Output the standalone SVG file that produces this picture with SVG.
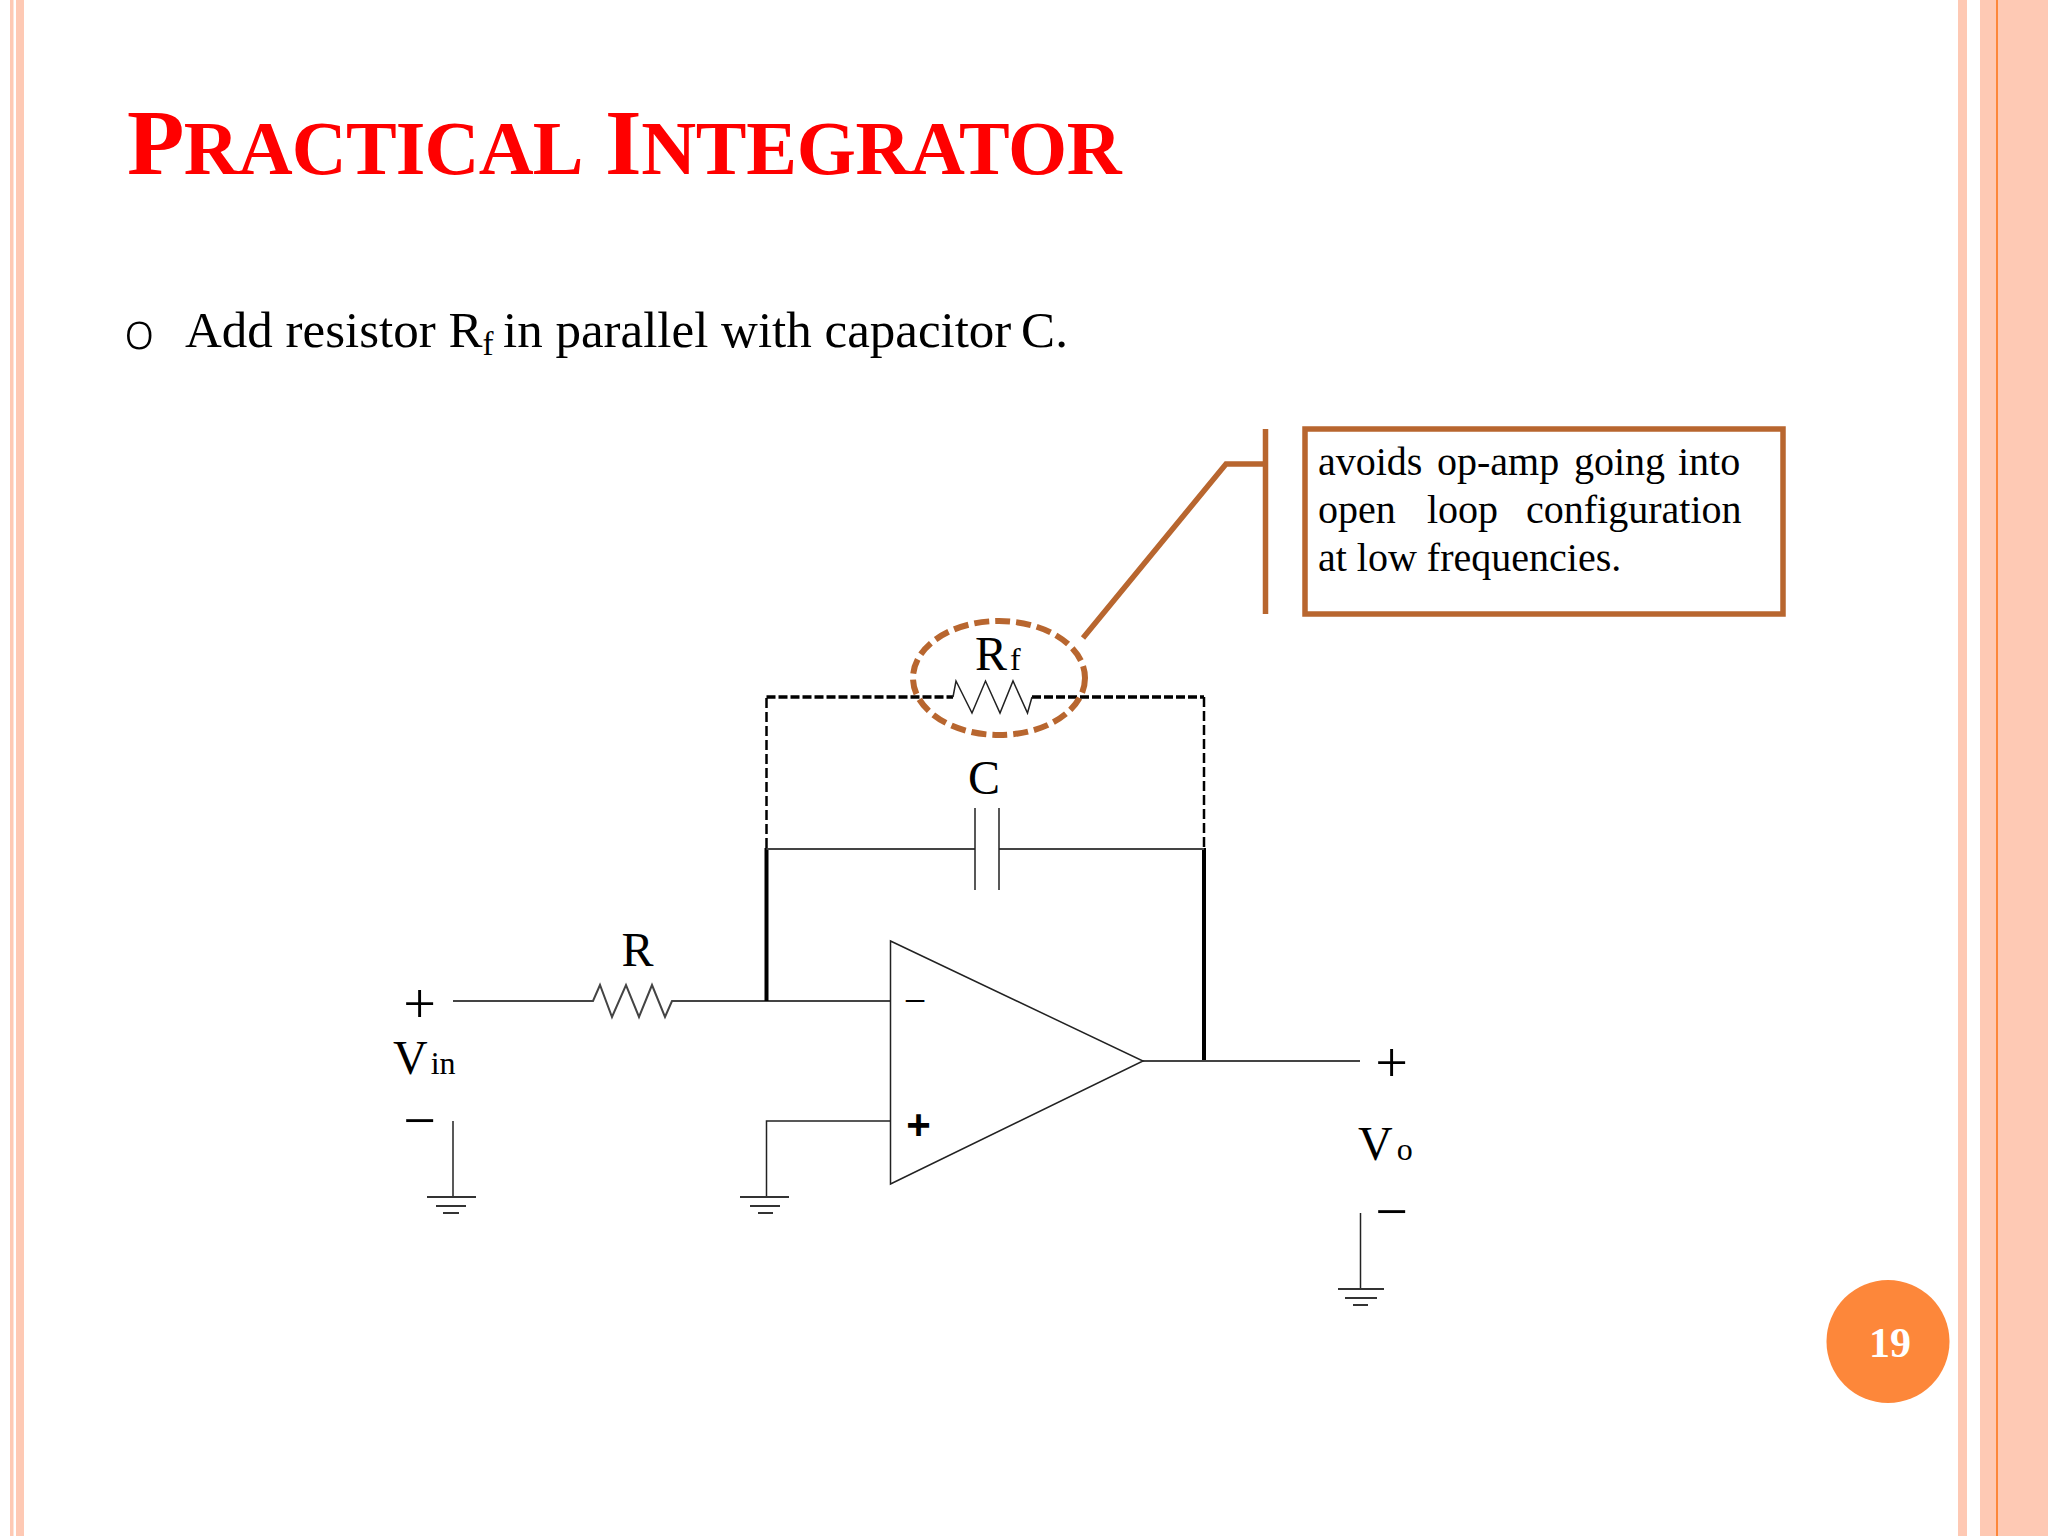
<svg xmlns="http://www.w3.org/2000/svg" width="2048" height="1536" viewBox="0 0 2048 1536">
<defs><style>
text{font-family:"Liberation Serif","Times New Roman",serif;fill:#000}
.lab{font-size:48px}
.sub{font-size:32px}
.sign{font-size:58px;text-anchor:middle}
.body{font-size:40px}
.w{fill:none;stroke:#444;stroke-width:2}
.t{fill:none;stroke:#222;stroke-width:1.5}
.g{fill:none;stroke:#333;stroke-width:2}
.thick{fill:none;stroke:#000;stroke-width:4}
.dash{fill:none;stroke:#000;stroke-width:3.500;stroke-dasharray:9 3}
.dashv{fill:none;stroke:#000;stroke-width:2.500;stroke-dasharray:10 4}
.call{fill:none;stroke:#B8662F;stroke-width:5.500}
</style></defs>
<rect width="2048" height="1536" fill="#fff"/>
<g id="frame">
<rect x="10" y="0" width="3.500" height="1536" fill="#FEC9B4"/>
<rect x="16" y="0" width="8" height="1536" fill="#FEC9B4"/>
<rect x="1958" y="0" width="9" height="1536" fill="#FEC9B4"/>
<rect x="1980" y="0" width="68" height="1536" fill="#FEC9B4"/>
<rect x="1996" y="0" width="2" height="1536" fill="#FD873A"/>
</g>
<g id="title"><text x="127" y="174" font-weight="700" style="fill:#FF0000" font-size="94"><tspan letter-spacing="-0.800">P<tspan font-size="76">RACTICAL</tspan> </tspan><tspan x="605" letter-spacing="-0.300">I<tspan font-size="76">NTEGRATOR</tspan></tspan></text></g>
<g id="bullet">
<text x="124" y="349" style="font-family:'Open Sans','Liberation Sans',sans-serif" font-weight="300" font-size="52">o</text>
<text x="185" y="347" font-size="51">Add resistor R<tspan font-size="33" dy="8">f</tspan><tspan x="503" dy="-8">in parallel with capacitor </tspan><tspan dx="-3">C.</tspan></text>
</g>
<g id="connectors">
<path class="w" d="M453 1001H593L600 985L612 1017L626 985L639 1017L652 985L665 1017L672 1001H890"/>
<path class="thick" d="M766.500 1001V848"/>
<path class="thick" d="M1204 1062V848"/>
<path class="dashv" d="M766.500 848V697"/>
<path class="dash" d="M766.500 697H953"/>
<path class="dash" d="M1032 697H1204"/>
<path class="dashv" d="M1204 697V848"/>
<path class="t" d="M953 697L956 681L972 713L985.500 681L1000 713L1013 681L1027.500 713L1032 697"/>
<path class="w" d="M766.500 849H975M999 849H1204"/>
<path class="t" d="M975 808V890M999 808V890"/>
<path class="w" d="M1143 1061H1360"/>
<path class="t" d="M890 1121H766.500V1197"/>
<path class="t" d="M453 1121V1197"/>
<path class="t" d="M1360.500 1213V1289"/>
</g>
<g id="ground-in"><path class="g" d="M427 1197H476M436 1206H466M443 1213H459"/></g>
<g id="ground-plus"><path class="g" d="M740 1197H789M750 1206H780M758 1213H773"/></g>
<g id="ground-out"><path class="g" d="M1338 1289H1384M1345 1298H1377M1353 1305H1368"/></g>
<g id="opamp">
<path class="t" d="M890.500 941L1143 1061L890.500 1184Z"/>
<text x="915" y="1014" font-size="40" text-anchor="middle">−</text>
<text x="918.500" y="1139" font-size="42" font-weight="700" text-anchor="middle" style="font-family:'Liberation Sans',Arial,sans-serif">+</text>
</g>
<g id="label-vin">
<text class="sign" x="419.500" y="1023">+</text>
<text x="393" y="1074" class="lab">V<tspan class="sub" dx="3">in</tspan></text>
<text class="sign" x="419.500" y="1140">−</text>
</g>
<g id="label-r"><text x="621.500" y="966" class="lab">R</text></g>
<g id="label-c"><text x="968" y="794" class="lab">C</text></g>
<g id="label-rf"><text x="975" y="670" class="lab">R<tspan class="sub" dx="3">f</tspan></text></g>
<g id="label-vo">
<text class="sign" x="1391.500" y="1082">+</text>
<text x="1358" y="1160" class="lab">V<tspan class="sub" dx="4">o</tspan></text>
<text class="sign" x="1391.500" y="1231">−</text>
</g>
<g id="callout">
<ellipse cx="999" cy="678" rx="86" ry="57" fill="none" stroke="#B8662F" stroke-width="6" stroke-dasharray="15 6"/>
<path class="call" d="M1083 638L1226 464H1265"/>
<path class="call" d="M1265.500 429V614"/>
<rect class="call" x="1305" y="429" width="478" height="185"/>
<text class="body" y="475"><tspan x="1318">avoids</tspan><tspan x="1437">op-amp</tspan><tspan x="1574">going</tspan><tspan x="1678">into</tspan></text>
<text class="body" y="523"><tspan x="1318">open</tspan><tspan x="1427">loop</tspan><tspan x="1526">configuration</tspan></text>
<text class="body" x="1318" y="571">at low frequencies.</text>
</g>
<g id="page-number">
<circle cx="1888" cy="1341.500" r="61.500" fill="#FD873A"/>
<text x="1890" y="1357" font-size="42" font-weight="700" text-anchor="middle" style="fill:#fff">19</text>
</g>
</svg>
